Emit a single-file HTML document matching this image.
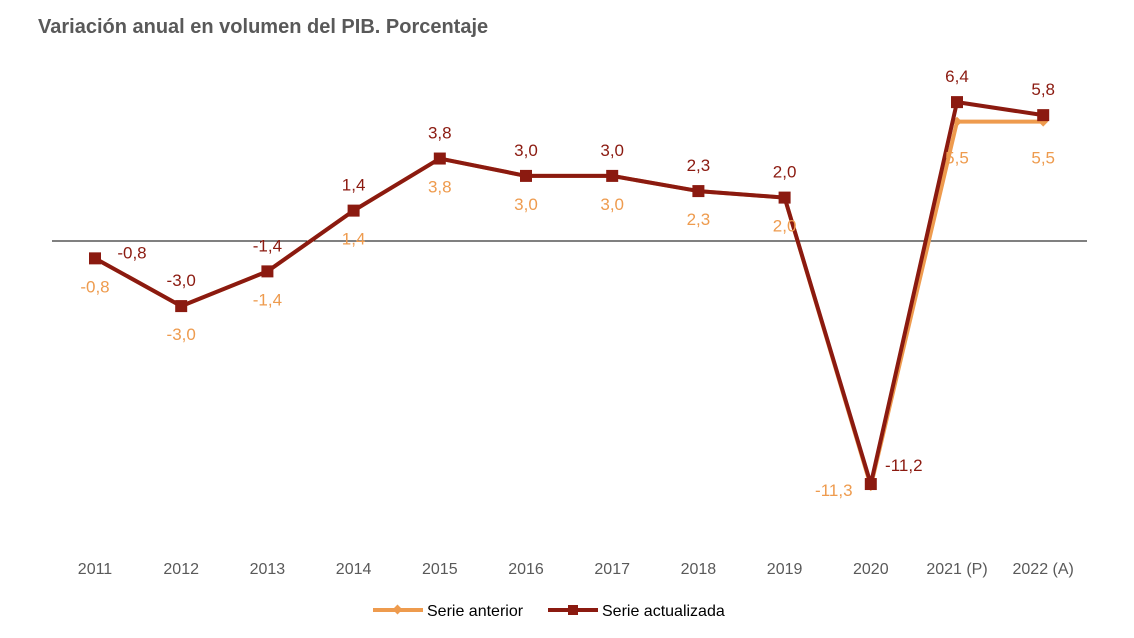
<!DOCTYPE html>
<html><head><meta charset="utf-8">
<style>
html,body{margin:0;padding:0;background:#fff;}
svg{display:block;font-family:"Liberation Sans",Arial,sans-serif;}
</style></head>
<body>
<svg id="chart" width="1134" height="638" viewBox="0 0 1134 638">
<text x="38" y="33" font-size="20" font-weight="bold" fill="#595959">Variación anual en volumen del PIB. Porcentaje</text>
<line x1="52" y1="241" x2="1087" y2="241" stroke="#000" stroke-width="1"/>
<g id="xaxis"></g>
<g id="series"></g>
<g id="legend">
<g>
<line x1="373" y1="610" x2="423" y2="610" stroke="#EE9B4E" stroke-width="4"/>
<rect x="394" y="606" width="7" height="7" fill="#EE9B4E" transform="rotate(45 397.5 609.5)"/>
<text x="427" y="616" font-size="16" fill="#000">Serie anterior</text>
</g>
<g>
<line x1="548" y1="610" x2="598" y2="610" stroke="#8B1A10" stroke-width="4"/>
<rect x="568" y="605" width="10" height="10" fill="#8B1A10"/>
<text x="602" y="616" font-size="16" fill="#000">Serie actualizada</text>
</g>
</g>
</svg>
<script>
const categories=["2011","2012","2013","2014","2015","2016","2017","2018","2019","2020","2021 (P)","2022 (A)"];
const serieAnterior=[-0.8,-3.0,-1.4,1.4,3.8,3.0,3.0,2.3,2.0,-11.3,5.5,5.5];
const serieActualizada=[-0.8,-3.0,-1.4,1.4,3.8,3.0,3.0,2.3,2.0,-11.2,6.4,5.8];
const NS="http://www.w3.org/2000/svg";
const xPos=i=>95+i*86.2;
const yPos=v=>241-v*21.7;
const fmt=v=>v.toFixed(1).replace('.',',');
const xg=document.getElementById('xaxis');
categories.forEach((c,i)=>{
 const t=document.createElementNS(NS,'text');
 t.setAttribute('x',xPos(i));t.setAttribute('y',574);t.setAttribute('text-anchor','middle');
 t.setAttribute('font-size','16');t.setAttribute('fill','#595959');t.textContent=c;
 
 
 xg.appendChild(t);
});
const sg=document.getElementById('series');
function draw(vals,color,marker,name){
 const p=document.createElementNS(NS,'polyline');
 p.setAttribute('points',vals.map((v,i)=>xPos(i)+','+yPos(v)).join(' '));
 p.setAttribute('fill','none');p.setAttribute('stroke',color);p.setAttribute('stroke-width','4');
 p.setAttribute('stroke-linejoin','round');
 
 
 sg.appendChild(p);
 vals.forEach((v,i)=>{
  const x=xPos(i),y=yPos(v);let m;
  if(marker==='square'){m=document.createElementNS(NS,'rect');m.setAttribute('x',x-6);m.setAttribute('y',y-6);m.setAttribute('width',12);m.setAttribute('height',12);}
  else{m=document.createElementNS(NS,'rect');m.setAttribute('x',x-3.5);m.setAttribute('y',y-3.5);m.setAttribute('width',7);m.setAttribute('height',7);m.setAttribute('transform','rotate(45 '+x+' '+y+')');}
  m.setAttribute('fill',color);
  
  
  sg.appendChild(m);
 });
}
function labels(vals,color,name,above){
 vals.forEach((v,i)=>{
  let x=xPos(i),y=yPos(v)+(above?-20:34);
  if(!above&&i>=10){y+=8;}
  if(i===0&&above){x+=37;y=yPos(v)+0;}
  if(i===9){ if(above){x+=33;y=yPos(v)-13;} else {x-=37;y=yPos(v)+10;} }
  const t=document.createElementNS(NS,'text');
  t.setAttribute('x',x);t.setAttribute('y',y);t.setAttribute('text-anchor','middle');
  t.setAttribute('font-size','17');t.setAttribute('fill',color);t.textContent=fmt(v);
  
  
  sg.appendChild(t);
 });
}
draw(serieAnterior,'#EE9B4E','diamond','serie-anterior');
draw(serieActualizada,'#8B1A10','square','serie-actualizada');
labels(serieAnterior,'#EE9B4E','serie-anterior',false);
labels(serieActualizada,'#8B1A10','serie-actualizada',true);
</script>
</body></html>
